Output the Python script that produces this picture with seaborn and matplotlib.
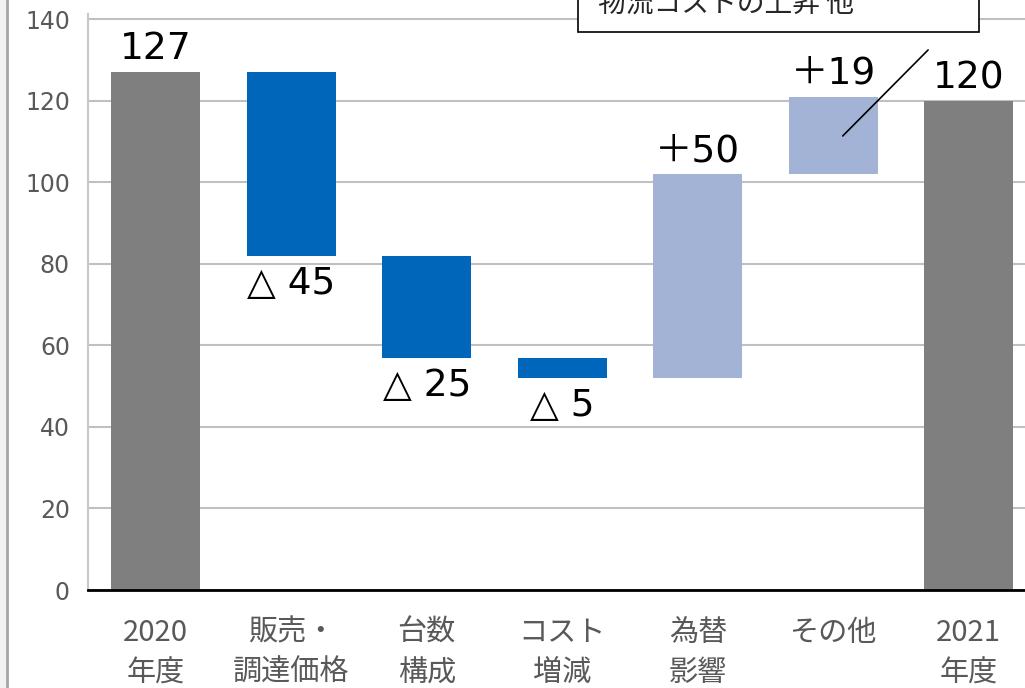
import numpy as np
import pandas as pd
import matplotlib
matplotlib.use("Agg")
import matplotlib.pyplot as plt
import seaborn as sns
from matplotlib.patches import Rectangle

# data
categories = ['2020\n年度', '販売・\n調達価格', '台数\n構成', 'コスト\n増減', '為替\n影響', 'その他', '2021\n年度']
changes = [127, -45, -25, -5, 50, 19, 120]
kinds = ['total', 'down', 'down', 'down', 'up', 'up', 'total']
value_labels = ['127', '△ 45', '△ 25', '△ 5', '＋50', '＋19', '120']
note_text = '物流コストの上昇 他'

colors = {'total': '#7f7f7f', 'down': '#0066b9', 'up': '#a2b3d5'}

# waterfall bottoms / heights
bottoms, heights = [], []
running = 0
for c, k in zip(changes, kinds):
    if k == 'total':
        bottoms.append(0)
        heights.append(c)
        running = c
    else:
        new = running + c
        bottoms.append(min(running, new))
        heights.append(abs(c))
        running = new

df = pd.DataFrame({'cat': categories, 'height': heights, 'bottom': bottoms, 'kind': kinds})

sns.set_style('white')
plt.rcParams['font.family'] = ['DejaVu Sans', 'Noto Sans CJK JP']

fig = plt.figure(figsize=(10.25, 6.88), dpi=100)
ax = fig.add_axes([88 / 1025, 98 / 688, 948.5 / 1025, 575.5 / 688])

sns.barplot(data=df, x='cat', y='height', hue='cat',
            palette=[colors[k] for k in kinds], width=0.66,
            legend=False, ax=ax, saturation=1)

for patch, b in zip(ax.patches, bottoms):
    patch.set_y(b)
    patch.set_linewidth(0)

# value labels
for i, (lab, b, h, k) in enumerate(zip(value_labels, bottoms, heights, kinds)):
    if k == 'down':
        ax.text(i, b - 2.5, lab, ha='center', va='top', fontsize=27, color='black')
    else:
        ax.text(i, b + h + 1.2, lab, ha='center', va='bottom', fontsize=27, color='black')

ax.set_xlim(-0.5, 6.5)
ax.set_ylim(0, 141.2)
ax.set_yticks(range(0, 141, 20))
ax.yaxis.grid(True, color='#c0c0c0', linewidth=1.5)
ax.set_axisbelow(True)
ax.set_xlabel('')
ax.set_ylabel('')

for s in ['top', 'right']:
    ax.spines[s].set_visible(False)
ax.spines['left'].set_color('#c8c8c8')
ax.spines['left'].set_linewidth(1.5)
ax.spines['bottom'].set_color('black')
ax.spines['bottom'].set_linewidth(2)

ax.tick_params(axis='y', length=0, pad=13, labelsize=17, labelcolor='#595959')
ax.tick_params(axis='x', length=0, pad=20, labelcolor='#595959')
for t in ax.get_xticklabels():
    t.set_fontfamily(['Noto Sans CJK JP'])
    t.set_fontsize(21)
    t.set_linespacing(1.45)
    t.set_va('top')

# callout box, cut off at the top
fig.patches.append(Rectangle((578 / 1025, (688 - 32) / 688), 401 / 1025, 0.1,
                             transform=fig.transFigure, facecolor='white',
                             edgecolor='black', linewidth=1.2, zorder=5))
fig.text(598 / 1025, 1 - 4 / 688, note_text, ha='left', va='center', fontsize=20,
         family=['Noto Sans CJK JP'], zorder=6)
ax.plot([5.70, 5.07], [132.5, 111.4], color='black', linewidth=1.2, clip_on=False)

# left frame
fig.patches.append(Rectangle((0, 0), 6 / 1025, 1, transform=fig.transFigure,
                             facecolor='#f2f2f2', edgecolor='none'))
fig.lines.append(plt.Line2D([7 / 1025, 7 / 1025], [0, 1], transform=fig.transFigure,
                            color='#a6a6a6', linewidth=2))

fig.savefig('out.png', dpi=100)
